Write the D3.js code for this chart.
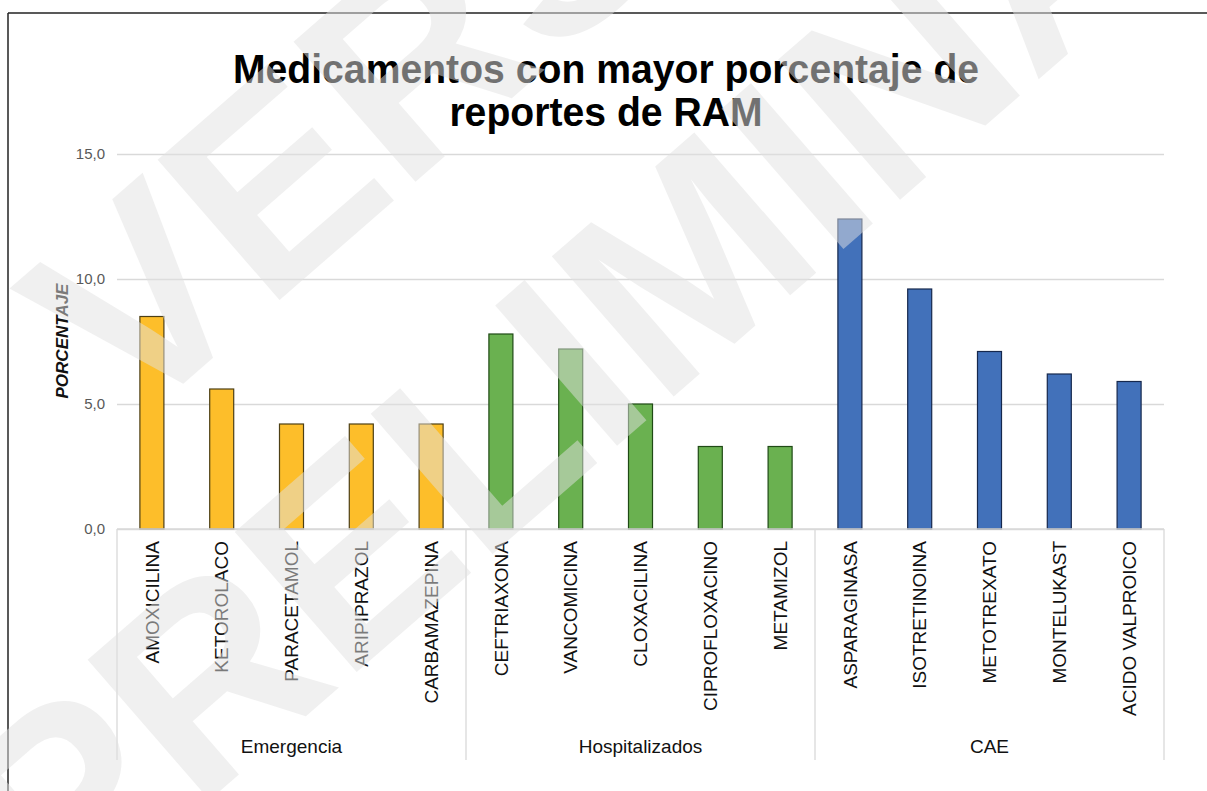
<!DOCTYPE html>
<html>
<head>
<meta charset="utf-8">
<script src="https://cdn.jsdelivr.net/npm/d3@7"></script>
<style>
  body { margin: 0; background: #fff; }
  svg { display: block; }
  text { font-family: "Liberation Sans", Arial, sans-serif; }
</style>
</head>
<body>
<script>
// data
const groups = ["Emergencia", "Hospitalizados", "CAE"];
const drugs = [
  "AMOXICILINA", "KETOROLACO", "PARACETAMOL", "ARIPIPRAZOL", "CARBAMAZEPINA",
  "CEFTRIAXONA", "VANCOMICINA", "CLOXACILINA", "CIPROFLOXACINO", "METAMIZOL",
  "ASPARAGINASA", "ISOTRETINOINA", "METOTREXATO", "MONTELUKAST", "ACIDO VALPROICO"
];
const drugGroup = [0, 0, 0, 0, 0, 1, 1, 1, 1, 1, 2, 2, 2, 2, 2];
const values = [8.5, 5.6, 4.2, 4.2, 4.2, 7.8, 7.2, 5.0, 3.3, 3.3, 12.4, 9.6, 7.1, 6.2, 5.9];
const yTicks = [0, 5, 10, 15];
const groupColors = ["#FDBE2A", "#6AB150", "#4271BA"];
const groupStrokes = ["#4d3f14", "#1f4a15", "#16284d"];

var svgWidth = 1207;
var svgHeight = 791;

var svg = d3.select("body")
  .append("svg")
  .attr("width", svgWidth)
  .attr("height", svgHeight);

// frame of the chart box
svg.append("line").attr("x1", 8).attr("x2", svgWidth).attr("y1", 13).attr("y2", 13)
  .attr("stroke", "#222").attr("stroke-width", 1.5);
svg.append("line").attr("x1", 8).attr("x2", 8).attr("y1", 13).attr("y2", svgHeight)
  .attr("stroke", "#222").attr("stroke-width", 1.5);

var plot = { left: 117, right: 1164, top: 154, bottom: 529 };

var x = d3.scaleBand()
  .domain(drugs)
  .range([plot.left, plot.right])
  .paddingInner(0.656)
  .paddingOuter(0.328);

var y = d3.scaleLinear()
  .domain([0, 15])
  .range([plot.bottom, plot.top]);

var fmt = v => d3.format(".1f")(v).replace(".", ",");

// gridlines + y labels
var yAxis = d3.axisLeft(y)
  .tickValues(yTicks)
  .tickSize(-(plot.right - plot.left))
  .tickPadding(12)
  .tickFormat(fmt);

svg.append("g")
  .attr("transform", `translate(${plot.left},0)`)
  .call(yAxis)
  .call(g => g.select(".domain").remove())
  .call(g => g.selectAll(".tick line").attr("stroke", "#d9d9d9").attr("stroke-width", 1.3))
  .call(g => g.selectAll(".tick text")
    .attr("fill", "#595959")
    .style("font-size", "15px")
    .style("font-family", "Liberation Sans, Arial, sans-serif"));

// bars
svg.selectAll(".bar")
  .data(values)
  .enter()
  .append("rect")
  .attr("class", "bar")
  .attr("x", (d, i) => x(drugs[i]))
  .attr("width", x.bandwidth())
  .attr("y", d => y(d))
  .attr("height", d => y(0) - y(d))
  .attr("fill", (d, i) => groupColors[drugGroup[i]])
  .attr("stroke", (d, i) => groupStrokes[drugGroup[i]])
  .attr("stroke-width", 1.2);

// category axis line + group separators
svg.append("line")
  .attr("x1", plot.left).attr("x2", plot.right)
  .attr("y1", y(0)).attr("y2", y(0))
  .attr("stroke", "#d9d9d9").attr("stroke-width", 1.3);

var groupBounds = [0, 5, 10, 15].map(k => plot.left + k * x.step());
svg.selectAll(".sep")
  .data(groupBounds)
  .enter()
  .append("line")
  .attr("x1", d => d).attr("x2", d => d)
  .attr("y1", y(0)).attr("y2", 760)
  .attr("stroke", "#d9d9d9").attr("stroke-width", 1.3);

// drug labels
svg.selectAll(".drug")
  .data(drugs)
  .enter()
  .append("text")
  .attr("class", "drug")
  .attr("transform", d => `translate(${x(d) + x.bandwidth() / 2},541) rotate(-90)`)
  .attr("dy", "0.35em")
  .attr("text-anchor", "end")
  .style("font-size", "19px")
  .attr("fill", "#111")
  .text(d => d);

// group labels
svg.selectAll(".grp")
  .data(groups)
  .enter()
  .append("text")
  .attr("class", "grp")
  .attr("x", (d, i) => (groupBounds[i] + groupBounds[i + 1]) / 2)
  .attr("y", 753)
  .attr("text-anchor", "middle")
  .style("font-size", "19px")
  .attr("fill", "#111")
  .text(d => d);

// y axis title
svg.append("text")
  .attr("transform", "translate(68,341) rotate(-90)")
  .attr("text-anchor", "middle")
  .style("font-size", "17px")
  .style("font-weight", "bold")
  .style("font-style", "italic")
  .attr("fill", "#111")
  .text("PORCENTAJE");

// title (slightly condensed bold)
var title = svg.append("g").attr("transform", "translate(606,0) scale(0.955,1)");
title.append("text")
  .attr("x", 0).attr("y", 83)
  .attr("text-anchor", "middle")
  .style("font-size", "41px")
  .style("font-weight", "bold")
  .text("Medicamentos con mayor porcentaje de");
title.append("text")
  .attr("x", 0).attr("y", 126)
  .attr("text-anchor", "middle")
  .style("font-size", "41px")
  .style("font-weight", "bold")
  .text("reportes de RAM");

// faint watermark on top
var wm = svg.append("g")
  .attr("fill", "#e2e2e2")
  .attr("opacity", 0.5)
  .style("pointer-events", "none");
wm.append("text")
  .attr("transform", "translate(130,430) rotate(-41)")
  .style("font-size", "270px")
  .style("font-weight", "bold")
  .text("VERSIÓN");
wm.append("text")
  .attr("transform", "translate(60,930) rotate(-41)")
  .style("font-size", "270px")
  .style("font-weight", "bold")
  .text("PRELIMINAR");
</script>
</body>
</html>
